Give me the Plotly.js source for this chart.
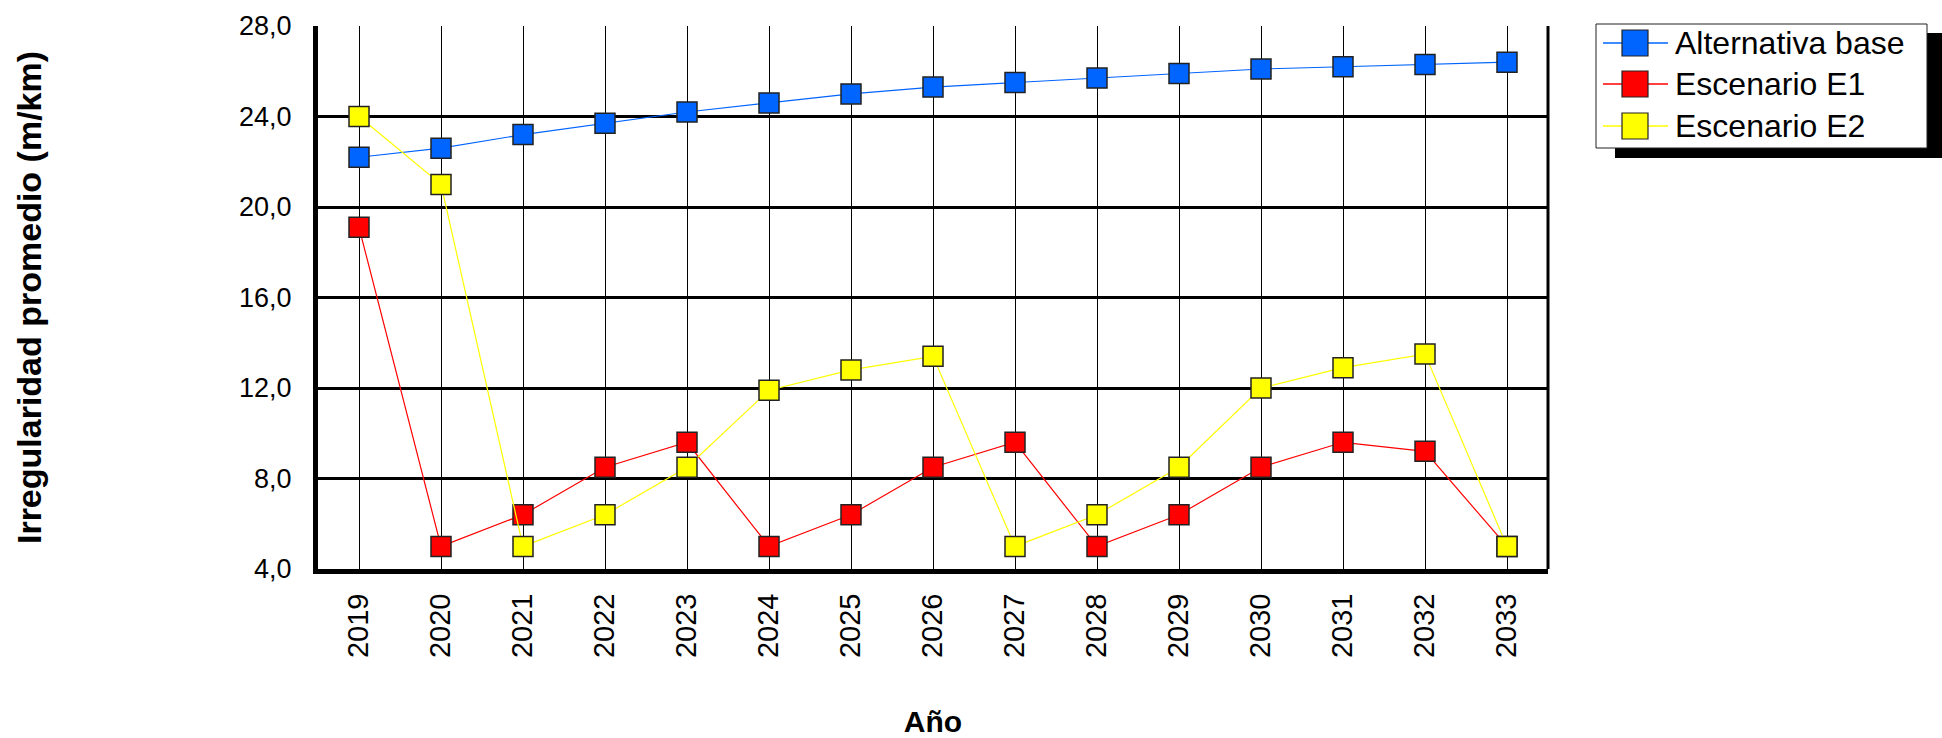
<!DOCTYPE html>
<html>
<head>
<meta charset="utf-8">
<script src="https://cdn.plot.ly/plotly-3.0.1.min.js"></script>
<style>html,body{margin:0;padding:0;background:#fff;}#chart{width:1942px;height:738px;}</style>
</head>
<body>
<div id="chart"></div>
<script>
const years = [2019,2020,2021,2022,2023,2024,2025,2026,2027,2028,2029,2030,2031,2032,2033];
const yearLabels = years.map(String);
const baseValues = [22.2,22.6,23.2,23.7,24.2,24.6,25.0,25.3,25.5,25.7,25.9,26.1,26.2,26.3,26.4];
const e1Values = [19.1,5.0,6.4,8.5,9.6,5.0,6.4,8.5,9.6,5.0,6.4,8.5,9.6,9.2,5.0];
const e2Values = [24.0,21.0,5.0,6.4,8.5,11.9,12.8,13.4,5.0,6.4,8.5,12.0,12.9,13.5,5.0];
const seriesNames = ["Alternativa base","Escenario E1","Escenario E2"];
const seriesColors = ["#0064FF","#FF0000","#FFFF00"];
const yTickVals = [4,8,12,16,20,24,28];
const yTickText = ["4,0","8,0","12,0","16,0","20,0","24,0","28,0"];

const FONT = "Arial, 'Liberation Sans', sans-serif";
const seriesValues = [baseValues, e1Values, e2Values];

const traces = seriesValues.map((vals, i) => ({
  type: "scatter",
  mode: "lines+markers",
  x: years,
  y: vals,
  name: seriesNames[i],
  line: {color: seriesColors[i], width: 1.2},
  marker: {symbol: "square", size: 20, color: seriesColors[i], line: {color: "#222", width: 1.5}},
  showlegend: false,
  cliponaxis: false
}));

// custom legend (layout elements, pixel offsets from top-right corner of plot area)
const shapes = [];
const annotations = [];
function pxRect(x0, x1, y0, y1, fill, lineColor, lw) {
  return {type: "rect", xref: "paper", yref: "paper", xsizemode: "pixel", ysizemode: "pixel",
    xanchor: 1, yanchor: 1, x0: x0, x1: x1, y0: y0, y1: y1,
    fillcolor: fill, line: {color: lineColor, width: lw}, layer: "above"};
}
function pxLine(x0, x1, y, color) {
  return {type: "line", xref: "paper", yref: "paper", xsizemode: "pixel", ysizemode: "pixel",
    xanchor: 1, yanchor: 1, x0: x0, x1: x1, y0: y, y1: y,
    line: {color: color, width: 1.5}, layer: "above"};
}
// right border of plot
shapes.push({type: "line", xref: "paper", yref: "paper", x0: 1, x1: 1, y0: 0, y1: 1, line: {color: "#000", width: 3}, layer: "above"});
// plot right edge is at px 1548, top at 26
const RX = 1548, TY = 26;
shapes.push(pxRect(1615 - RX, 1960 - RX, TY - 33, TY - 158, "#000", "#000", 0));
shapes.push(pxRect(1596 - RX, 1927 - RX, TY - 24, TY - 148, "#fff", "#222", 1));
const rowY = [43, 84, 126];
seriesNames.forEach((nm, i) => {
  const cy = rowY[i];
  shapes.push(pxLine(1603 - RX, 1668 - RX, TY - cy, seriesColors[i]));
  shapes.push(pxRect(1622 - RX, 1648 - RX, TY - (cy - 13), TY - (cy + 13), seriesColors[i], "#222", 1.2));
  annotations.push({xref: "paper", yref: "paper", x: 1, y: 1, xshift: 1673 - RX, yshift: TY - cy,
    xanchor: "left", yanchor: "middle", showarrow: false, text: nm,
    font: {family: FONT, size: 32, color: "#000"}});
});

const layout = {
  width: 1942, height: 738,
  margin: {l: 318, r: 1942 - 1548, t: TY, b: 738 - 569},
  paper_bgcolor: "#fff", plot_bgcolor: "#fff",
  font: {family: FONT, color: "#000"},
  showlegend: false,
  xaxis: {
    range: [2018.5, 2033.5],
    tickmode: "array", tickvals: years, ticktext: yearLabels,
    tickangle: -90, tickfont: {family: FONT, size: 29, color: "#000"},
    ticks: "", showgrid: true, gridcolor: "#000", gridwidth: 1,
    zeroline: false, showline: true, linecolor: "#000", linewidth: 5,
    ticklabelstandoff: 8,
    title: {text: "Año", font: {family: FONT, size: 30, color: "#000", weight: "bold"}, standoff: 56},
    fixedrange: true
  },
  yaxis: {
    range: [4, 28],
    tickmode: "array", tickvals: yTickVals, ticktext: yTickText,
    tickfont: {family: FONT, size: 27, color: "#000"},
    ticks: "", showgrid: true, gridcolor: "#000", gridwidth: 3,
    zeroline: false, showline: true, linecolor: "#000", linewidth: 5,
    ticklabelstandoff: 16,
    title: {text: "Irregularidad promedio (m/km)", font: {family: FONT, size: 34, color: "#000", weight: "bold"}, standoff: 189},
    fixedrange: true
  },
  shapes: shapes,
  annotations: annotations
};

Plotly.newPlot("chart", traces, layout, {displayModeBar: false, staticPlot: true});
</script>
</body>
</html>
